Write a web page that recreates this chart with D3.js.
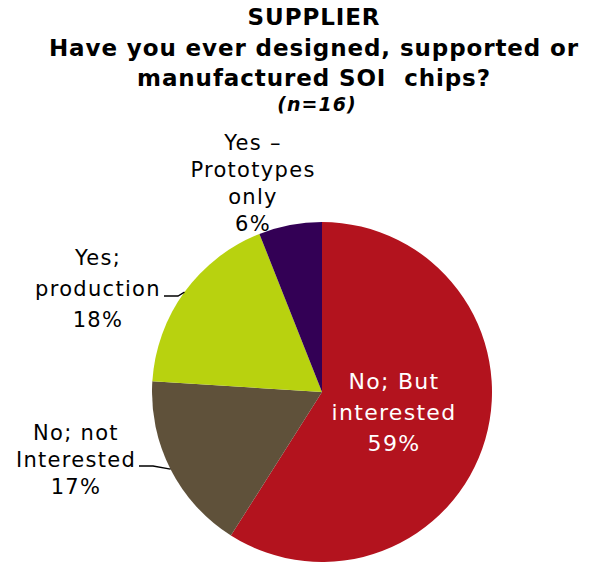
<!DOCTYPE html>
<html>
<head>
<meta charset="utf-8">
<script src="https://cdn.jsdelivr.net/npm/d3@7"></script>
<style>
  html, body { margin: 0; padding: 0; background: #fff; }
  svg { display: block; }
  text { white-space: pre; }
</style>
</head>
<body>
<svg id="chart" width="593" height="562"></svg>
<script>
// Survey answers, in clockwise order from 12 o'clock
const categories = ["No; But interested", "No; not Interested", "Yes; production", "Yes – Prototypes only"];
const shares = [59, 17, 18, 6];
const sliceColors = ["#b3131e", "#5f513a", "#b8d20f", "#330055"];
// Multi-line label text per slice
const labelLines = [
  ["No; But", "interested", "59%"],
  ["No; not", "Interested", "17%"],
  ["Yes;", "production", "18%"],
  ["Yes –", "Prototypes", "only", "6%"]
];
const titleLines = ["SUPPLIER", "Have you ever designed, supported or", "manufactured SOI  chips?"];
const subtitle = "(n=16)";

const svg = d3.select("#chart");
const cx = 322, cy = 392, radius = 170;

// Title block
const title = svg.append("g").attr("font-family", "DejaVu Sans, Verdana, sans-serif")
  .attr("font-weight", "bold").attr("text-anchor", "middle").attr("fill", "#000");
const titleY = [25, 56, 86];
titleLines.forEach((t, i) => {
  title.append("text").attr("x", 314).attr("y", titleY[i])
    .attr("font-size", 23).attr("letter-spacing", 0.9).text(t);
});
title.append("text").attr("x", 317).attr("y", 111)
  .attr("font-size", 19).attr("font-style", "italic").attr("letter-spacing", 1).text(subtitle);

// Pie
const pie = d3.pie().sort(null).value(d => d)(shares);
const arc = d3.arc().innerRadius(0).outerRadius(radius);
const g = svg.append("g").attr("transform", `translate(${cx},${cy})`);
g.selectAll("path").data(pie).join("path")
  .attr("d", arc)
  .attr("fill", (d, i) => sliceColors[i]);

// Labels: centered text blocks
const labelPos = [
  { x: 394, y: 389, dy: 31, color: "#fff", size: 22 },
  { x: 76, y: 440, dy: 27, color: "#000", size: 21 },
  { x: 98, y: 265, dy: 31, color: "#000", size: 21 },
  { x: 253, y: 150, dy: 27, color: "#000", size: 21 }
];
const labels = svg.append("g").attr("font-family", "DejaVu Sans, Verdana, sans-serif")
  .attr("text-anchor", "middle").attr("letter-spacing", 1.3);
labelLines.forEach((lines, i) => {
  const p = labelPos[i];
  lines.forEach((t, j) => {
    labels.append("text").attr("x", p.x).attr("y", p.y + j * p.dy)
      .attr("font-size", p.size).attr("fill", p.color).text(t);
  });
});

// Leader lines from outside labels to their slice edges
function edgePoint(d, frac) {
  const a = d.startAngle + (d.endAngle - d.startAngle) * frac;
  return [cx + radius * Math.sin(a), cy - radius * Math.cos(a)];
}
const leaders = [
  { i: 1, from: [139, 466], frac: 0.5 },
  { i: 2, from: [164, 296], frac: 0.5 }
];
leaders.forEach(l => {
  const e = edgePoint(pie[l.i], l.frac);
  const mid = [l.from[0] + 14, l.from[1]];
  svg.append("path")
    .attr("d", d3.line()([l.from, mid, e]))
    .attr("fill", "none").attr("stroke", "#000").attr("stroke-width", 1.3);
});
</script>
</body>
</html>
